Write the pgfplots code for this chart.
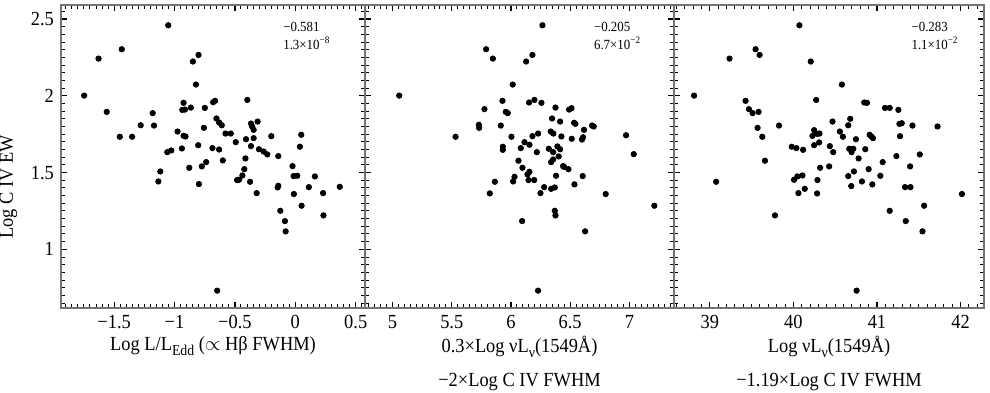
\documentclass[border=0pt]{standalone}
\usepackage{fontspec}
\setmainfont[FakeStretch=0.92]{Liberation Serif}
\usepackage{pgfplots}
\pgfplotsset{compat=1.18}

\newcommand{\sub}[1]{\raisebox{-2.6pt}{\fontsize{7.5}{8}\selectfont #1}}

\pgfplotsset{
  panel/.style={
    scale only axis, height=151.5pt, anchor=south west,
    ymin=0.618, ymax=2.591,
    ytick={1,1.5,2,2.5},
    minor ytick={0.65,0.7,...,2.58},
    tick align=inside,
    major tick length=3pt, minor tick length=1.8pt,
    axis line style={draw=black!55, line width=0.7pt},
    major tick style={black, line width=0.6pt},
    minor tick style={black, line width=0.5pt},
    tick label style={font=\fontsize{10}{12}\selectfont},
    label style={font=\fontsize{10}{12}\selectfont},
    xlabel style={yshift=3pt},
  },
  dots/.style={only marks, mark=*, mark size=1.35pt, black},
}
\tikzset{corner/.style={anchor=west, font=\fontsize{7}{8}\selectfont, inner sep=0pt}}

\begin{document}
\begin{tikzpicture}
\useasboundingbox (0,0) rectangle (495pt,196pt);

% panel 1
\begin{axis}[panel, at={(30.5pt,42pt)}, width=152pt,
  xmin=-1.94, xmax=0.577,
  xtick={-1.5,-1,-0.5,0,0.5},
  minor xtick={-1.9,-1.85,...,0.56},
  xticklabels={−1.5,−1,−0.5,0,0.5},
  yticklabels={1,1.5,2,2.5},
  ylabel={Log C IV EW},
  ylabel style={at={(ticklabel cs:0.4)}},
  xlabel={Log L/L\sub{Edd} ($\propto$ Hβ FWHM)}]
\addplot[dots] coordinates {
(-1.052,2.459)(-1.629,2.242)(-1.437,2.303)(-1.748,2.001)(-1.561,1.895)
(-1.453,1.733)(-1.351,1.733)(-1.280,1.808)(-1.181,1.887)(-1.170,1.806)
(-0.848,2.223)(-0.801,2.266)(-0.823,2.073)(-0.925,1.954)(-0.936,1.908)
(-0.914,1.910)(-0.865,1.923)(-0.749,1.921)(-0.680,1.958)(-0.664,1.967)
(-0.397,1.973)(-0.653,1.852)(-0.631,1.826)(-0.609,1.808)(-0.757,1.791)
(-0.975,1.767)(-0.925,1.739)(-0.909,1.735)(-0.804,1.678)(-0.939,1.657)
(-1.060,1.633)(-1.027,1.644)(-0.686,1.659)(-0.631,1.650)(-0.578,1.754)
(-0.534,1.754)(-0.493,1.698)(-0.367,1.819)(-0.358,1.800)(-0.345,1.778)
(-0.312,1.832)(-0.408,1.717)(-0.345,1.724)(-0.367,1.672)(-0.301,1.652)
(-0.262,1.637)(-0.232,1.618)(-0.199,1.737)(-0.141,1.607)(-0.413,1.592)
(-0.600,1.579)(-0.738,1.568)(-0.774,1.540)(-0.878,1.531)(-1.118,1.507)
(-1.134,1.442)(-0.798,1.425)(-0.422,1.522)(-0.438,1.481)(-0.482,1.451)
(-0.466,1.453)(-0.375,1.440)(-0.320,1.366)(-0.146,1.403)(-0.141,1.414)
(-0.023,1.542)(-0.014,1.477)(0.016,1.479)(0.049,1.746)(0.038,1.668)
(-0.012,1.360)(0.052,1.284)(0.112,1.405)(0.162,1.475)(0.230,1.366)
(0.233,1.221)(0.368,1.407)(-0.124,1.251)(-0.086,1.184)(-0.080,1.117)
(-0.647,0.731)};
\node[corner] at (rel axis cs:0.73,0.928) {−0.581};
\node[corner] at (rel axis cs:0.73,0.874) {1.3×10\textsuperscript{−8}};
\end{axis}

% panel 2
\begin{axis}[panel, at={(182.5pt,42pt)}, width=154.5pt,
  xmin=4.767, xmax=7.377,
  xtick={5,5.5,6,6.5,7},
  minor xtick={4.8,4.85,...,7.36},
  xticklabels={5,5.5,6,6.5,7},
  yticklabels={},
  xlabel style={align=center},
  xlabel={0.3×Log νL\sub{ν}(1549Å)\\[5pt]−2×Log C IV FWHM}]
\addplot[dots] coordinates {
(6.266,2.459)(5.790,2.303)(5.847,2.242)(6.128,2.223)(6.181,2.266)
(6.015,2.073)(5.056,2.001)(5.928,1.967)(6.153,1.956)(6.198,1.973)
(6.257,1.954)(5.776,1.913)(5.956,1.895)(5.973,1.887)(6.376,1.923)
(6.491,1.910)(6.511,1.919)(6.347,1.852)(6.415,1.832)(6.533,1.824)
(6.544,1.817)(6.685,1.806)(6.699,1.800)(5.729,1.811)(5.731,1.791)
(5.914,1.806)(5.532,1.733)(6.004,1.733)(6.181,1.737)(6.229,1.754)
(6.336,1.767)(6.358,1.754)(6.426,1.735)(6.513,1.720)(6.609,1.730)
(6.617,1.778)(6.600,1.715)(6.972,1.743)(7.037,1.620)(5.931,1.668)
(5.931,1.648)(6.083,1.659)(6.114,1.698)(6.156,1.681)(6.218,1.633)
(6.319,1.655)(6.356,1.633)(6.392,1.670)(6.415,1.652)(6.403,1.605)
(6.356,1.585)(6.339,1.568)(6.063,1.577)(6.097,1.531)(6.440,1.542)
(6.449,1.537)(6.485,1.522)(6.381,1.479)(6.606,1.477)(6.139,1.488)
(6.156,1.505)(6.148,1.451)(6.196,1.451)(6.030,1.472)(6.018,1.442)
(5.864,1.440)(5.821,1.364)(6.249,1.366)(6.280,1.405)(6.339,1.394)
(6.370,1.403)(6.536,1.423)(6.800,1.360)(7.211,1.284)(6.370,1.251)
(6.376,1.221)(6.094,1.184)(6.626,1.117)(6.229,0.731)};
\node[corner] at (rel axis cs:0.74,0.928) {−0.205};
\node[corner] at (rel axis cs:0.74,0.874) {6.7×10\textsuperscript{−2}};
\end{axis}

% panel 3
\begin{axis}[panel, at={(337pt,42pt)}, width=155pt,
  xmin=38.572, xmax=42.28,
  xtick={39,40,41,42},
  minor xtick={38.6,38.7,...,42.25},
  xticklabels={39,40,41,42},
  yticklabels={},
  xlabel style={align=center},
  xlabel={Log νL\sub{ν}(1549Å)\\[5pt]−1.19×Log C IV FWHM}]
\addplot[dots] coordinates {
(40.072,2.459)(39.236,2.242)(39.548,2.303)(39.596,2.266)(40.208,2.223)
(40.580,2.073)(38.812,2.001)(39.428,1.967)(39.468,1.913)(39.512,1.887)
(39.584,1.895)(40.272,1.973)(40.848,1.956)(40.880,1.954)(41.096,1.921)
(41.152,1.921)(41.256,1.908)(39.572,1.791)(39.628,1.733)(39.828,1.806)
(40.468,1.832)(40.680,1.850)(40.656,1.808)(40.556,1.767)(40.592,1.733)
(40.248,1.776)(40.228,1.739)(40.284,1.752)(40.312,1.754)(40.912,1.746)
(40.932,1.735)(40.952,1.724)(40.748,1.717)(41.268,1.817)(41.296,1.821)
(41.424,1.806)(41.724,1.800)(41.276,1.737)(39.980,1.668)(40.036,1.659)
(40.116,1.648)(40.248,1.678)(40.308,1.696)(40.436,1.672)(40.476,1.633)
(40.668,1.655)(40.696,1.633)(40.716,1.655)(40.860,1.652)(40.780,1.592)
(41.232,1.607)(41.512,1.618)(39.660,1.577)(40.320,1.531)(40.428,1.540)
(41.068,1.568)(40.900,1.522)(40.724,1.507)(40.656,1.477)(41.040,1.479)
(41.396,1.540)(39.076,1.440)(40.008,1.453)(40.048,1.475)(40.108,1.481)
(40.288,1.451)(40.136,1.394)(40.060,1.366)(40.284,1.364)(40.692,1.412)
(40.820,1.442)(40.944,1.423)(41.336,1.405)(41.400,1.405)(42.016,1.360)
(39.780,1.221)(41.152,1.251)(41.564,1.284)(41.344,1.184)(41.544,1.117)
(40.756,0.731)};
\node[corner] at (rel axis cs:0.765,0.928) {−0.283};
\node[corner] at (rel axis cs:0.765,0.874) {1.1×10\textsuperscript{−2}};
\end{axis}
\end{tikzpicture}
\end{document}
